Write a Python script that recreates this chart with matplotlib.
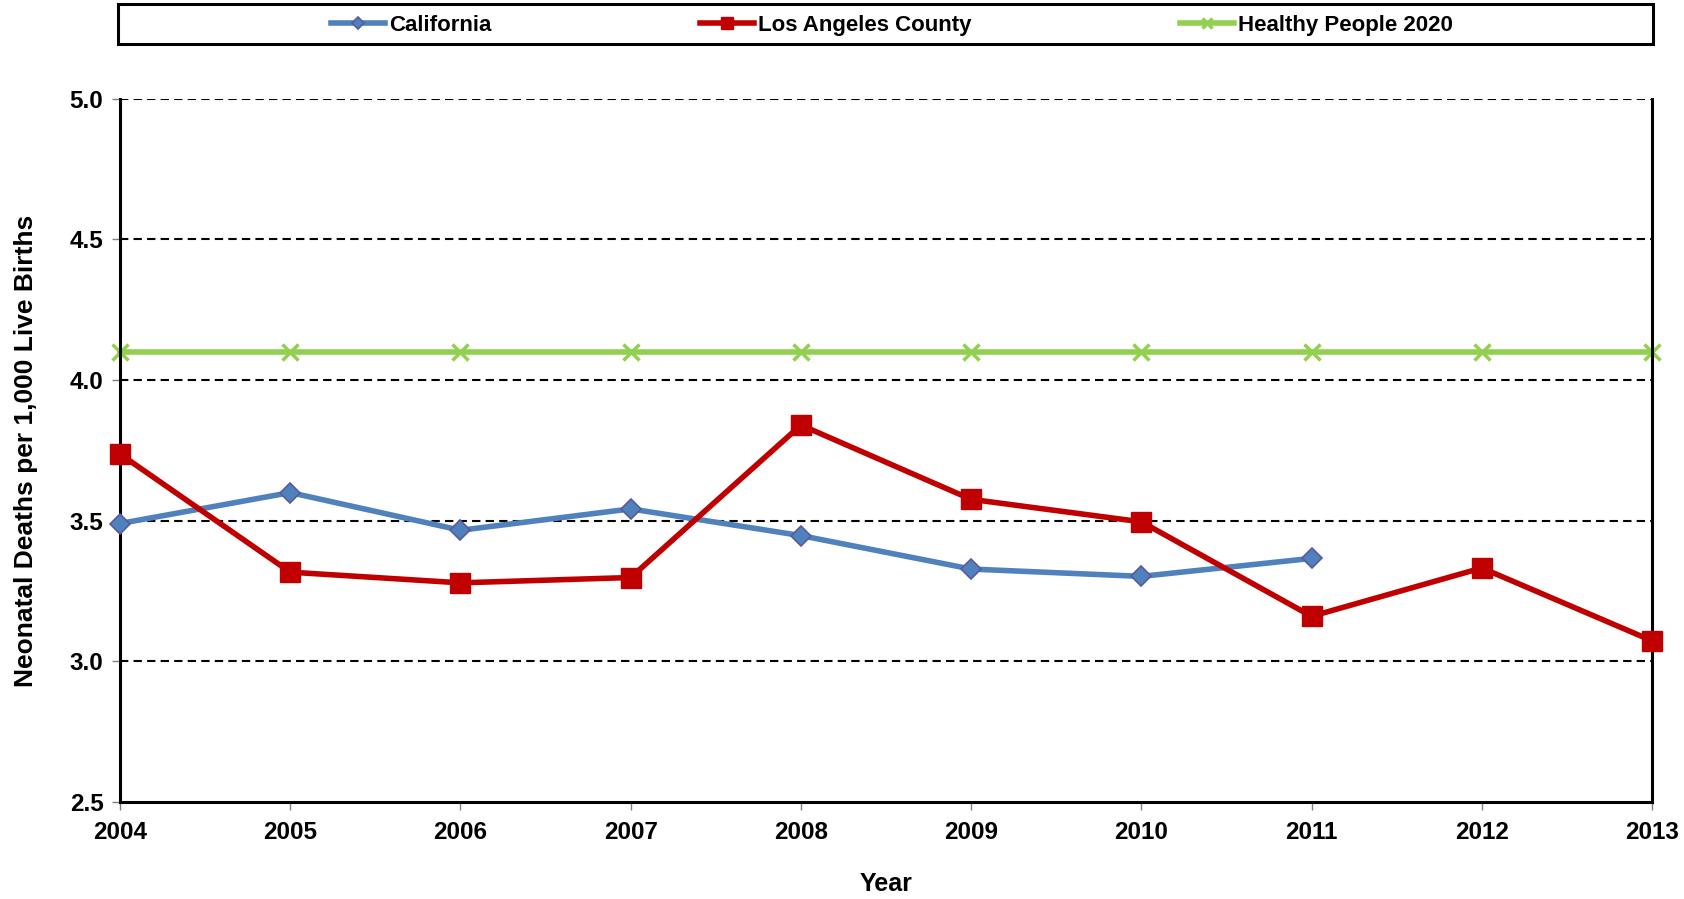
import matplotlib
matplotlib.use('Agg')
import matplotlib.pyplot as plt
from matplotlib.patches import Rectangle

plt.rcParams['font.family'] = ['Liberation Sans', 'DejaVu Sans']
plt.rcParams['font.weight'] = 'bold'

years = [2004, 2005, 2006, 2007, 2008, 2009, 2010, 2011, 2012, 2013]
ca_years = years[:8]
california = [3.49, 3.60, 3.466, 3.542, 3.447, 3.328, 3.302, 3.366]
la_county = [3.737, 3.317, 3.279, 3.298, 3.840, 3.576, 3.496, 3.160, 3.332, 3.073]
hp2020 = [4.1] * len(years)
y_ticks = [2.5, 3.0, 3.5, 4.0, 4.5, 5.0]

fig = plt.figure(figsize=(16.84, 8.99), dpi=100)
ax = fig.add_axes([0.0713, 0.108, 0.9097, 0.782])

# dashed grid lines
for yv in y_ticks[1:]:
    ax.axhline(yv, color='black', linestyle=(0, (4, 2.5)), linewidth=1.5, zorder=1)

ax.plot(ca_years, california, color='#4f81bd', linewidth=4, marker='D', markersize=10,
        markerfacecolor='#4f81bd', markeredgecolor='#5a5a9a', markeredgewidth=1.2,
        label='California', zorder=3, clip_on=False)
ax.plot(years, la_county, color='#c00000', linewidth=4, marker='s', markersize=14,
        markerfacecolor='#c00000', markeredgecolor='#c00000',
        label='Los Angeles County', zorder=4, clip_on=False)
ax.plot(years, hp2020, color='#92d050', linewidth=4, marker='x', markersize=11,
        markeredgewidth=2.5, label='Healthy People 2020', zorder=2, clip_on=False)

ax.set_xlim(2004, 2013)
ax.set_ylim(2.5, 5.0)
ax.set_xticks(years)
ax.set_yticks(y_ticks)
ax.set_yticklabels([f'{v:.1f}' for v in y_ticks])
ax.tick_params(axis='both', labelsize=17.5, direction='out', length=6, color='#808080', width=1)
ax.tick_params(axis='x', pad=8)
ax.tick_params(axis='y', pad=6)
for lab in ax.get_xticklabels() + ax.get_yticklabels():
    lab.set_fontweight('bold')

ax.spines['top'].set_visible(False)
for s in ['left', 'right', 'bottom']:
    ax.spines[s].set_linewidth(2.2)
    ax.spines[s].set_color('black')

ax.set_xlabel('Year', fontsize=18, fontweight='bold', labelpad=20)
ax.set_ylabel('Neonatal Deaths per 1,000 Live Births', fontsize=19, fontweight='bold', labelpad=23)

# legend box across the top
fig.patches.append(Rectangle((0.0701, 0.951), 0.9115, 0.045, transform=fig.transFigure,
                             fill=False, edgecolor='black', linewidth=2.2))
leg = fig.legend(loc='center', bbox_to_anchor=(0.5298, 0.972), ncol=3, fontsize=16,
                 frameon=False, handlelength=2.4, handletextpad=0.2, columnspacing=9.4,
                 markerscale=0.6, borderaxespad=0)
for t in leg.get_texts():
    t.set_fontweight('bold')

fig.savefig('out.png', dpi=100)
